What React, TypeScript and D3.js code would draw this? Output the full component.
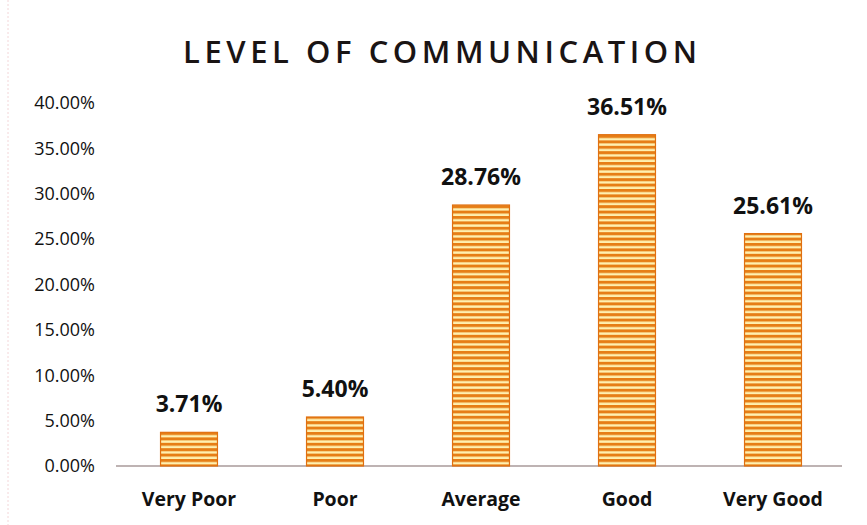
import React from "react";
import * as d3 from "d3";

const categories = ["Very Poor", "Poor", "Average", "Good", "Very Good"];
const values = [3.71, 5.4, 28.76, 36.51, 25.61];
const yTicks = [0, 5, 10, 15, 20, 25, 30, 35, 40];
const title = "LEVEL OF COMMUNICATION";

export default function App() {
  const W = 867, H = 525;
  const x = d3.scaleBand().domain(categories).range([116, 846]).paddingInner(0.61).paddingOuter(0.305);
  const y = d3.scaleLinear().domain([0, 40]).range([466, 103]);
  const font = "'Open Sans', 'Noto Sans', sans-serif";
  return (
    <svg width={W} height={H} style={{ position: "absolute", left: 0, top: 0, background: "#fff" }}>
      <defs>
        <pattern id="stripes" patternUnits="userSpaceOnUse" width="8" height="5.4">
          <rect width="8" height="5.4" fill="#fff0b0" />
          <rect width="8" height="3" fill="#e67e16" />
        </pattern>
      </defs>
      <line x1={8} x2={8} y1={0} y2={H} stroke="#f3d6d8" strokeDasharray="2,2" />
      <text x={440} y={63} textAnchor="middle" fontFamily={font} fontSize={31} fontWeight={600}
        textLength={514} lengthAdjust="spacing" fill="#1a1414">
        {title}
      </text>
      {yTicks.map((t) => (
        <text key={t} x={95} y={y(t)} dy="0.35em" textAnchor="end" fontFamily={font} fontSize={18} fill="#111">
          {t.toFixed(2) + "%"}
        </text>
      ))}
      <line x1={116} x2={842} y1={y(0)} y2={y(0)} stroke="#a89a9a" strokeWidth={1.5} />
      {categories.map((c, i) => {
        const bx = x(c)!;
        const by = y(values[i]);
        return (
          <g key={c}>
            <rect x={bx} y={by} width={x.bandwidth()} height={y(0) - by} fill="url(#stripes)" stroke="#e07010" strokeWidth={1.2} />
            <text x={bx + x.bandwidth() / 2} y={by - 20} textAnchor="middle" fontFamily={font} fontSize={23} fontWeight={700} fill="#111">
              {values[i].toFixed(2) + "%"}
            </text>
            <text x={bx + x.bandwidth() / 2} y={506} textAnchor="middle" fontFamily={font} fontSize={19.5} fontWeight={700} fill="#111">
              {c}
            </text>
          </g>
        );
      })}
    </svg>
  );
}
